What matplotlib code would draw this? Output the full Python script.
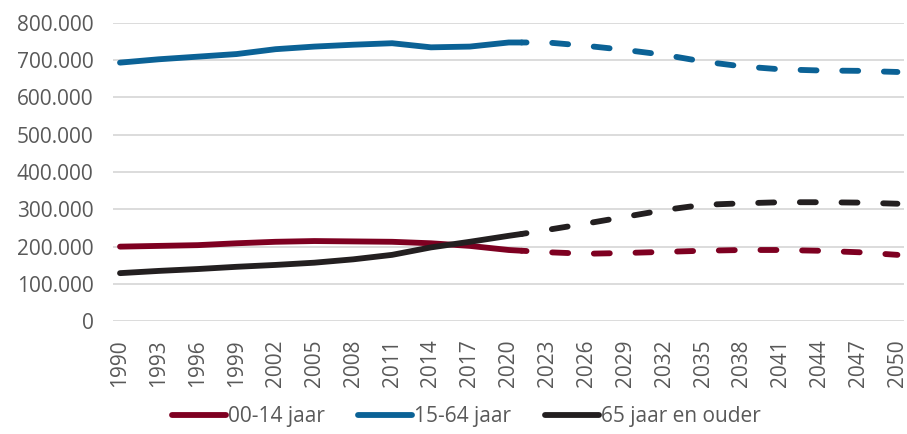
import numpy as np
import matplotlib.pyplot as plt
from matplotlib.ticker import FuncFormatter

# gemeten jaren (solid) en prognose (dashed)
jaren_obs = [1990, 1993, 1996, 1999, 2002, 2005, 2008, 2011, 2014, 2017, 2020, 2021]
jaren_prog = [2021, 2023, 2026, 2029, 2032, 2035, 2038, 2041, 2044, 2047, 2050]

jong_obs = [200000, 202000, 204000, 209000, 213000, 215000, 214000, 213000, 209000, 202000, 191000, 189000]
jong_prog = [189000, 185000, 181000, 183000, 186000, 189000, 191000, 191000, 189000, 185000, 178000]

midden_obs = [693000, 702000, 709000, 716000, 729000, 736000, 741000, 745000, 734000, 736000, 747000, 747000]
midden_prog = [747000, 747000, 738000, 727000, 714000, 696000, 683000, 675000, 672000, 671000, 668000]

oud_obs = [129000, 135000, 140000, 146000, 151000, 157000, 166000, 178000, 198000, 213000, 229000, 234000]
oud_prog = [234000, 245000, 262000, 280000, 298000, 312000, 316000, 319000, 319000, 318000, 315000]

labels = ["00-14 jaar", "15-64 jaar", "65 jaar en ouder"]
kleuren = ["#7E0021", "#0B6296", "#231F20"]

plt.rcParams['font.family'] = ['Open Sans', 'DejaVu Sans']
plt.rcParams['lines.scale_dashes'] = False

fig = plt.figure(figsize=(9.07, 4.34), dpi=100)
ax = fig.add_axes([0.1246, 0.2597, 0.872, 0.688])

dash = (8, (11.5, 18.5))
reeksen = [(jong_obs, jong_prog), (midden_obs, midden_prog), (oud_obs, oud_prog)]
for (obs, prog), lab, kl in zip(reeksen, labels, kleuren):
    ax.plot(jaren_obs, obs, color=kl, lw=4.2, solid_capstyle='round', label=lab)
    ax.plot(jaren_prog, prog, color=kl, lw=4.2, linestyle=dash, dash_capstyle='round')

ax.set_ylim(0, 800000)
ax.set_xlim(1989.46, 2050.5)
ax.set_yticks(np.arange(0, 800001, 100000))
ax.set_xticks(np.arange(1990, 2051, 3))
ax.yaxis.set_major_formatter(FuncFormatter(lambda v, p: f"{int(v):,}".replace(",", ".")))
ax.tick_params(axis='x', labelrotation=90, pad=13)
ax.tick_params(axis='y', pad=14)
ax.tick_params(length=0, labelsize=15, labelcolor="#595959")
ax.grid(axis='y', color="#D9D9D9", lw=1.3)
ax.set_axisbelow(True)
for s in ax.spines.values():
    s.set_visible(False)

fig.legend(loc='lower center', bbox_to_anchor=(0.514, -0.028), ncol=3, frameon=False,
           fontsize=15, labelcolor="#595959", handlelength=2.6, handletextpad=0.1,
           columnspacing=1.6)

fig.savefig("out.png", dpi=100)
